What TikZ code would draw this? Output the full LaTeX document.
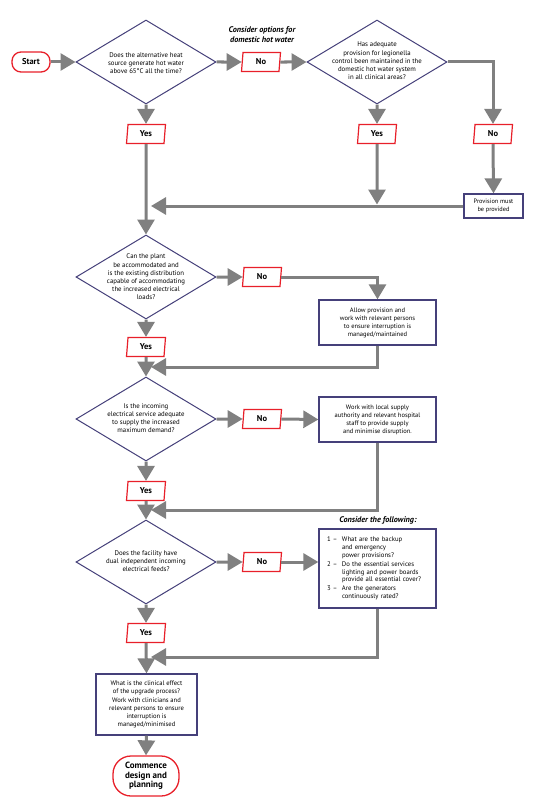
\documentclass[tikz,border=0pt]{standalone}
\usepackage{fontspec}
\setmainfont{PT Sans}
\usetikzlibrary{shapes.geometric,arrows.meta,calc}
\definecolor{lgray}{HTML}{808080}
\definecolor{navy}{HTML}{45407A}
\definecolor{rred}{HTML}{E8202A}
\newcommand{\itemno}[1]{\makebox[15pt][l]{#1}}
\newcommand{\itemind}{\hspace*{15pt}}
\begin{document}
\begin{tikzpicture}[x=1pt,y=-1pt,
  conn/.style={draw=lgray, line width=3pt, -{Triangle[length=15pt 0 0,width=17pt 0 0]}},
  plain/.style={draw=lgray, line width=3pt},
  dia/.style={diamond, draw=navy, line width=1pt, minimum width=140pt, minimum height=84pt, inner sep=0pt},
  dtext/.style={align=center, font=\fontsize{6.8}{8.2}\selectfont, inner sep=0pt},
  yn/.style={trapezium, trapezium left angle=76, trapezium right angle=104, trapezium stretches body, draw=rred, line width=1.2pt, minimum width=39pt, minimum height=19pt, inner sep=0pt, font=\bfseries\fontsize{8.5}{10}\selectfont},
  term/.style={draw=rred, line width=1.3pt, rounded corners=9pt, inner sep=0pt, font=\bfseries\fontsize{8.5}{10}\selectfont, align=center},
  box/.style={draw=navy, line width=1.3pt, align=center, inner sep=0pt, font=\fontsize{6.5}{8}\selectfont},
  note/.style={font=\bfseries\itshape\fontsize{8.2}{10}\selectfont, align=center, inner sep=0pt}
]
\useasboundingbox (0,0) rectangle (535,800);
\fill[white] (0,0) rectangle (535,800);

% nodes
\node[term, minimum width=38pt, minimum height=20pt] (start) at (31,62) {Start};
\node[dia] (d1) at (146,62) {};
\node[dtext] (d1t) at (146,63) {Does the alternative heat\\source generate hot water\\above 65°C all the time?};
\node[yn] (no1) at (261,62) {No};
\node[note] (n1) at (262,35) {Consider options for\\domestic hot water};
\node[dia] (d2) at (377,62) {};
\node[dtext] (d2t) at (377,61) {Has adequate\\provision for legionella\\control been maintained in the\\domestic hot water system\\in all clinical areas?};
\node[yn] (yes1) at (146,134) {Yes};
\node[yn] (yes2) at (377,134) {Yes};
\node[yn] (no3) at (493,134) {No};
\node[box, minimum width=59pt, minimum height=24pt, font=\fontsize{6.3}{7.3}\selectfont] (prov) at (493.5,206) {Provision must\\be provided};

\node[dia] (d3) at (146,277) {};
\node[dtext] (d3t) at (146,277) {Can the plant\\be accommodated and\\is the existing distribution\\capable of accommodating\\the increased electrical\\loads?};
\node[yn] (no4) at (262,277) {No};
\node[box, minimum width=117pt, minimum height=45pt] (ba) at (377.5,322.5) {Allow provision and\\work with relevant persons\\to ensure interruption is\\managed/maintained};
\node[yn] (yes3) at (146,347) {Yes};

\node[dia] (d4) at (146,419) {};
\node[dtext] (d4t) at (146,418) {Is the incoming\\electrical service adequate\\to supply the increased\\maximum demand?};
\node[yn] (no5) at (262,419) {No};
\node[box, minimum width=117pt, minimum height=45pt] (bb) at (377.5,419.5) {Work with local supply\\authority and relevant hospital\\staff to provide supply\\and minimise disruption.};
\node[yn] (yes4) at (146,491) {Yes};

\node[dia] (d5) at (146,562) {};
\node[dtext] (d5t) at (146,561) {Does the facility have\\dual independent incoming\\electrical feeds?};
\node[yn] (no6) at (262,562) {No};
\node[note] (n2) at (378,520) {Consider the following:};
\node[box, minimum width=117pt, minimum height=79pt] (bc) at (377.5,568.5) {};
\node[inner sep=0pt, text width=101pt, align=left, font=\fontsize{6.7}{7.7}\selectfont] (bct) at (bc.center) {\itemno{1 –}What are the backup\\\itemind and emergency\\\itemind power provisions?\\[1.5pt]\itemno{2 –}Do the essential services\\\itemind lighting and power boards\\\itemind provide all essential cover?\\[1.5pt]\itemno{3 –}Are the generators\\\itemind continuously rated?};
\node[yn] (yes5) at (146,633) {Yes};
\node[box, minimum width=101pt, minimum height=61pt, font=\fontsize{6.6}{8}\selectfont] (bd) at (146.5,704.5) {What is the clinical effect\\of the upgrade process?\\[1.5pt]Work with clinicians and\\relevant persons to ensure\\interruption is\\managed/minimised};
\node[term, minimum width=66pt, minimum height=40pt, rounded corners=18pt, font=\bfseries\fontsize{9}{9.3}\selectfont] (end) at (146,776) {Commence\\design and\\planning};

% merge points
\coordinate (m1) at (151,206);
\coordinate (j1) at (377,204.5);
\coordinate (m2) at (151,367);
\coordinate (m3) at (151,510);
\coordinate (m4) at (151,657);

% connectors
\draw[conn] (start.east) -- (d1.west);
\draw[conn] (d1.east) -- (no1.west);
\draw[conn] (no1.east) -- (d2.west);
\draw[conn] (d2.east) -| (no3.north);
\draw[conn] (d2.south) -- (yes2.north);
\draw[conn] (d1.south) -- (yes1.north);
\draw[conn] (no3.south) -- (prov.north);
\draw[conn] (yes2.south) -- (j1);
\draw[conn] (prov.west) -- (m1);
\draw[conn] (yes1.south) -- (d3.north);

\draw[conn] (d3.east) -- (no4.west);
\draw[conn] (no4.east) -| (ba.north);
\draw[conn] (d3.south) -- (yes3.north);
\draw[conn] (ba.south) |- (m2);
\draw[conn] (yes3.south) -- (d4.north);

\draw[conn] (d4.east) -- (no5.west);
\draw[conn] (no5.east) -- (bb.west);
\draw[conn] (bb.south) |- (m3);
\draw[conn] (d4.south) -- (yes4.north);
\draw[conn] (yes4.south) -- (d5.north);

\draw[conn] (d5.east) -- (no6.west);
\draw[conn] (no6.east) -- (no6.east -| bc.west);
\draw[conn] (bc.south) |- (m4);
\draw[conn] (d5.south) -- (yes5.north);
\draw[conn] (yes5.south) -- (bd.north);
\draw[conn] (bd.south) -- (end.north);
\end{tikzpicture}
\end{document}
